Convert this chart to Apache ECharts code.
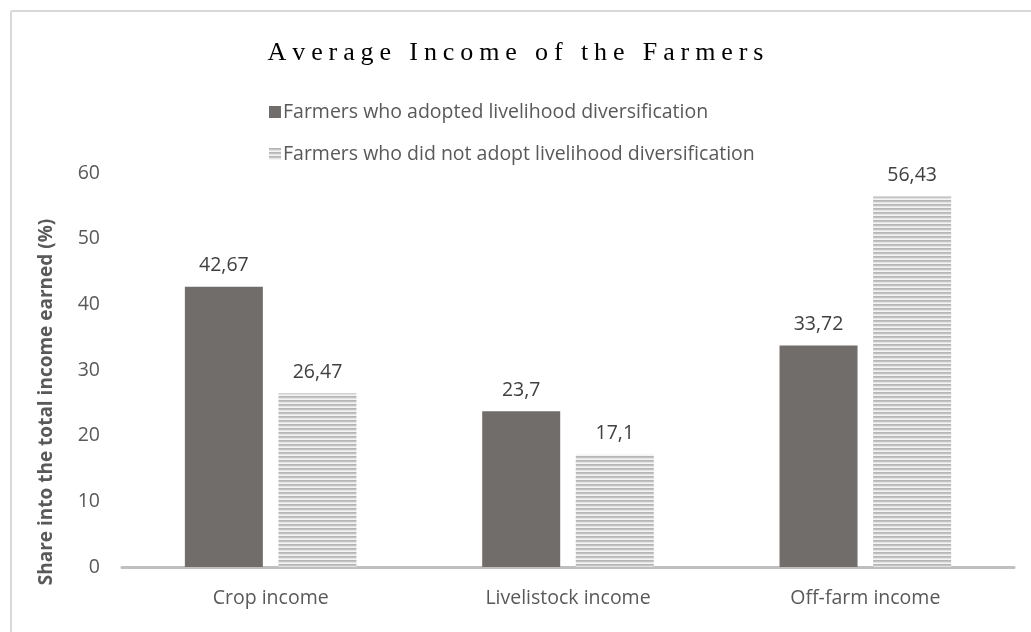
<!DOCTYPE html>
<html>
<head>
<meta charset="utf-8">
<script src="https://cdn.jsdelivr.net/npm/echarts@6/dist/echarts.min.js"></script>
<style>
  html, body { margin: 0; padding: 0; background: #fff; }
  #chart { width: 1031px; height: 632px; }
</style>
</head>
<body>
<div id="chart"></div>
<script>
// Income categories and shares (%)
const categories = ['Crop income', 'Livelistock income', 'Off-farm income'];
const adopted = [42.67, 23.7, 33.72];
const notAdopted = [26.47, 17.1, 56.43];
const seriesNames = [
  'Farmers who adopted livelihood diversification',
  'Farmers who did not adopt livelihood diversification'
];
const titleText = 'Average Income of the Farmers';
const yAxisTitle = 'Share into the total income earned (%)';

const textGrey = '#595959';
const uiFont = '"Open Sans", Lato, sans-serif';
const uiSize = 19.5;

// Horizontal-stripe fill for the second series
function stripePattern() {
  const c = document.createElement('canvas');
  c.width = 8; c.height = 4;
  const ctx = c.getContext('2d');
  const rows = ['#b5b5b5', '#c4c4c4', '#e2e2e2', '#f4f4f4'];
  rows.forEach((col, i) => { ctx.fillStyle = col; ctx.fillRect(0, i, 8, 1); });
  return c;
}

// Spaced-out title built from per-character rich tokens
const spacedTitle = titleText.split('').map(ch => '{c|' + (ch === ' ' ? '\u00a0' : ch) + '}').join('');

const commaFmt = p => String(p.value).replace('.', ',');

const chart = echarts.init(document.getElementById('chart'), null, { renderer: 'canvas' });
chart.setOption({
  backgroundColor: '#fff',
  animation: false,
  title: {
    text: spacedTitle,
    left: 'center',
    top: 35,
    textStyle: {
      fontWeight: 'normal',
      rich: {
        c: {
          fontFamily: '"Liberation Serif", "Times New Roman", serif',
          fontSize: 26,
          fontWeight: 'normal',
          color: '#000',
          padding: [0, 2.95, 0, 2.95]
        }
      }
    }
  },
  legend: {
    orient: 'vertical',
    left: 264,
    top: 97,
    itemWidth: 12,
    itemHeight: 12,
    itemGap: 22,
    icon: 'rect',
    textStyle: { color: textGrey, fontSize: uiSize, fontFamily: uiFont, padding: [0, 0, 0, -3] },
    data: seriesNames
  },
  grid: { left: 122, right: 17, top: 173, bottom: 65, containLabel: false },
  xAxis: {
    type: 'category',
    data: categories,
    axisTick: { show: false },
    axisLine: { lineStyle: { color: '#bfbfbf', width: 3 } },
    axisLabel: { color: textGrey, fontSize: uiSize, fontFamily: uiFont, margin: 21 }
  },
  yAxis: {
    type: 'value',
    min: 0,
    max: 60,
    interval: 10,
    splitLine: { show: false },
    axisLine: { show: false },
    axisTick: { show: false },
    axisLabel: { color: textGrey, fontSize: uiSize, fontFamily: uiFont, margin: 22 }
  },
  graphic: [
    { type: 'line', shape: { x1: 11, y1: 11, x2: 1031, y2: 11 }, style: { stroke: '#d9d9d9', lineWidth: 2 } },
    { type: 'line', shape: { x1: 11, y1: 11, x2: 11, y2: 632 }, style: { stroke: '#d9d9d9', lineWidth: 2 } },
    {
      type: 'text',
      x: 47, y: 402,
      rotation: Math.PI / 2,
      style: {
        text: yAxisTitle,
        fill: textGrey,
        font: 'bold 19px ' + uiFont,
        textAlign: 'center',
        textVerticalAlign: 'middle'
      }
    }
  ],
  series: [
    {
      name: seriesNames[0],
      type: 'bar',
      data: adopted,
      barWidth: 78,
      barGap: '20%',
      itemStyle: { color: '#716d6b' },
      label: { show: true, position: 'top', distance: 11, color: '#404040', fontSize: uiSize, fontFamily: uiFont, formatter: commaFmt }
    },
    {
      name: seriesNames[1],
      type: 'bar',
      data: notAdopted,
      barWidth: 78,
      itemStyle: { color: { image: stripePattern(), repeat: 'repeat' } },
      label: { show: true, position: 'top', distance: 11, color: '#404040', fontSize: uiSize, fontFamily: uiFont, formatter: commaFmt }
    }
  ]
});
</script>
</body>
</html>
